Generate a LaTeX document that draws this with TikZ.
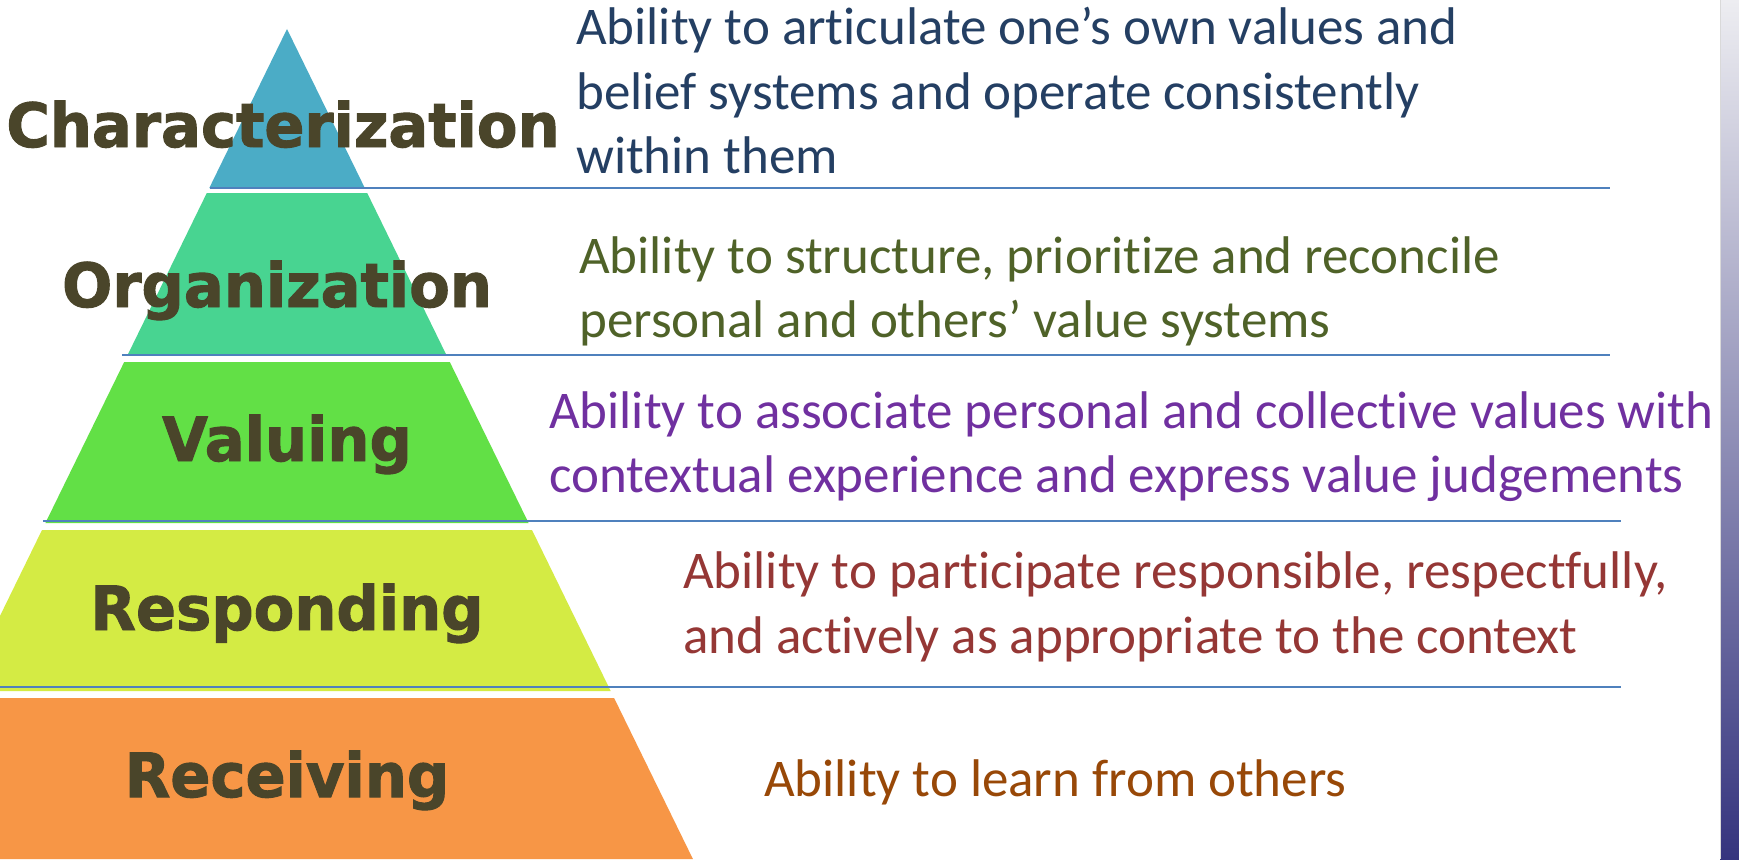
\documentclass[tikz,border=0pt]{standalone}
\usepackage{fontspec}
\setmainfont{Carlito}
\newfontfamily\labfont{DejaVu Sans Bold}[FakeBold=1.6, FakeStretch=0.97]
\newfontfamily\descfont{Carlito}[Ligatures=NoCommon]
\definecolor{cBlue}{HTML}{4BACC6}
\definecolor{cTeal}{HTML}{48D491}
\definecolor{cGreen}{HTML}{62E046}
\definecolor{cLime}{HTML}{D4EB44}
\definecolor{cOrange}{HTML}{F79646}
\definecolor{labc}{HTML}{4A452A}
\definecolor{sepblue}{HTML}{4F81BD}
\definecolor{t1c}{HTML}{243F63}
\definecolor{t2c}{HTML}{4F6228}
\definecolor{t3c}{HTML}{7030A0}
\definecolor{t4c}{HTML}{953735}
\definecolor{t5c}{HTML}{984807}
\definecolor{barTop}{HTML}{EDEDF1}
\definecolor{barBot}{HTML}{35347E}
\begin{document}
\begin{tikzpicture}[x=1pt,y=-1pt,
  lab/.style={anchor=base, inner sep=0pt, text=labc, font=\labfont\fontsize{61}{72}\selectfont},
  desc/.style={anchor=base west, inner sep=0pt, font=\descfont\fontsize{53}{64}\selectfont},
  sepline/.style={draw=sepblue, line width=2pt}]
\useasboundingbox (0,0) rectangle (1739,859);
\fill[white] (0,0) rectangle (1739,859);
\begin{scope}
\clip (0,0) rectangle (1739,859);
% tiers
\fill[cBlue]   (287,29) -- (364.8,188) -- (209.3,188) -- cycle;
\fill[cTeal]   (206.8,193) -- (367.2,193) -- (445.9,354) -- (128.1,354) -- cycle;
\fill[cGreen]  (124.2,362) -- (449.8,362) -- (528.6,523) -- (45.4,523) -- cycle;
\fill[cLime]   (42,530) -- (532,530) -- (610.7,691) -- (-36.7,691) -- cycle;
\fill[cOrange] (-40.1,698) -- (614.1,698) -- (692.9,859) -- (-118.9,859) -- cycle;
\end{scope}
% separator lines
\coordinate (s1a) at (210,188);  \coordinate (s1b) at (1610,188);
\coordinate (s2a) at (122,354.5); \coordinate (s2b) at (1610,354.5);
\coordinate (s3a) at (43,521);   \coordinate (s3b) at (1621,521);
\coordinate (s4a) at (0,687);    \coordinate (s4b) at (1621,687);
\draw[sepline] (s1a) -- (s1b);
\draw[sepline] (s2a) -- (s2b);
\draw[sepline] (s3a) -- (s3b);
\draw[sepline] (s4a) -- (s4b);
% labels
\node[lab] (l1) at (283,147) {Characterization};
\node[lab] (l2) at (277,307) {Organization};
\node[lab] (l3) at (287,461) {Valuing};
\node[lab] (l4) at (287,630) {Responding};
\node[lab] (l5) at (287,797) {Receiving};
% descriptions
\node[desc,text=t1c] (d1a) at (576,45)  {Ability to articulate one’s own values and};
\node[desc,text=t1c] (d1b) at (576,109) {belief systems and operate consistently};
\node[desc,text=t1c] (d1c) at (576,173) {within them};
\node[desc,text=t2c] (d2a) at (579,273) {Ability to structure, prioritize and reconcile};
\node[desc,text=t2c] (d2b) at (579,337) {personal and others’ value systems};
\node[desc,text=t3c] (d3a) at (549,428) {Ability to associate personal and collective values with};
\node[desc,text=t3c] (d3b) at (549,492) {contextual experience and express value judgements};
\node[desc,text=t4c] (d4a) at (683,588) {Ability to participate responsible, respectfully,};
\node[desc,text=t4c] (d4b) at (683,653) {and actively as appropriate to the context};
\node[desc,text=t5c] (d5a) at (764,796) {Ability to learn from others};
% right gradient bar
\shade[top color=barTop, bottom color=barBot] (1720,0) rectangle (1739,859);
\draw[black!15, line width=1pt] (1720,0) -- (1720,859);
\end{tikzpicture}
\end{document}
